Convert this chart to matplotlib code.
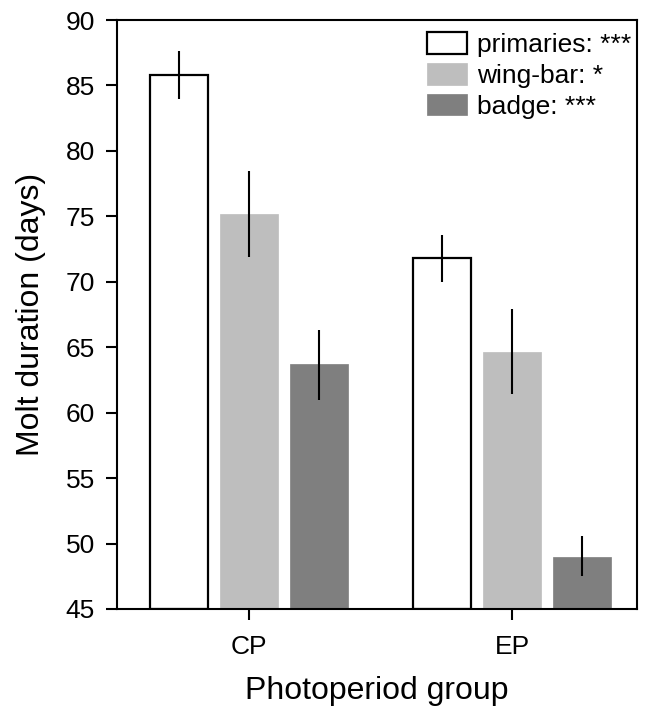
import numpy as np
import matplotlib
matplotlib.use('Agg')
import matplotlib.pyplot as plt

plt.rcParams['font.family'] = ['Liberation Sans', 'DejaVu Sans']

groups = ['CP', 'EP']
series = ['primaries: ***', 'wing-bar: *', 'badge: ***']
means = {
    'primaries: ***': [85.8, 71.8],
    'wing-bar: *': [75.2, 64.6],
    'badge: ***': [63.7, 49.0],
}
err_lo = {
    'primaries: ***': [84.0, 70.0],
    'wing-bar: *': [71.9, 61.4],
    'badge: ***': [61.0, 47.5],
}
err_hi = {
    'primaries: ***': [87.6, 73.6],
    'wing-bar: *': [78.5, 67.9],
    'badge: ***': [66.3, 50.6],
}
faces = ['white', '#bebebe', '#7f7f7f']
edges = ['black', '#bebebe', '#7f7f7f']

fig = plt.figure(figsize=(6.45, 7.12), dpi=100)
ax = fig.add_axes([0.1814, 0.1447, 0.8062, 0.8272])

centers = np.array([0.0, 3.757])
width = 0.82
for i, s in enumerate(series):
    x = centers + (i - 1)
    m = np.array(means[s])
    lo = m - np.array(err_lo[s])
    hi = np.array(err_hi[s]) - m
    ax.bar(x, m - 45, bottom=45, width=width, color=faces[i], edgecolor=edges[i],
           linewidth=1.6 if i == 0 else 0.5, label=s, zorder=2)
    ax.errorbar(x, m, yerr=[lo, hi], fmt='none', ecolor='black', elinewidth=1.5,
                capsize=0, zorder=3)

ax.set_xlim(-1.886, 5.543)
ax.set_ylim(45, 90)
ax.set_yticks(np.arange(45, 91, 5))
ax.set_xticks(centers)
ax.set_xticklabels(groups)
ax.tick_params(axis='both', labelsize=19, width=1.5, length=8, pad=8)
ax.tick_params(axis='x', pad=11)
for sp in ax.spines.values():
    sp.set_linewidth(1.5)

ax.set_xlabel('Photoperiod group', fontsize=23, labelpad=12)
ax.set_ylabel('Molt duration (days)', fontsize=23, labelpad=14)

ax.legend(loc='upper right', frameon=False, fontsize=19, handlelength=1.55,
          handleheight=0.88, labelspacing=0.22, handletextpad=0.38,
          bbox_to_anchor=(1.0, 0.988), borderaxespad=0.0, borderpad=0.2)

fig.savefig('out.png', dpi=100)
